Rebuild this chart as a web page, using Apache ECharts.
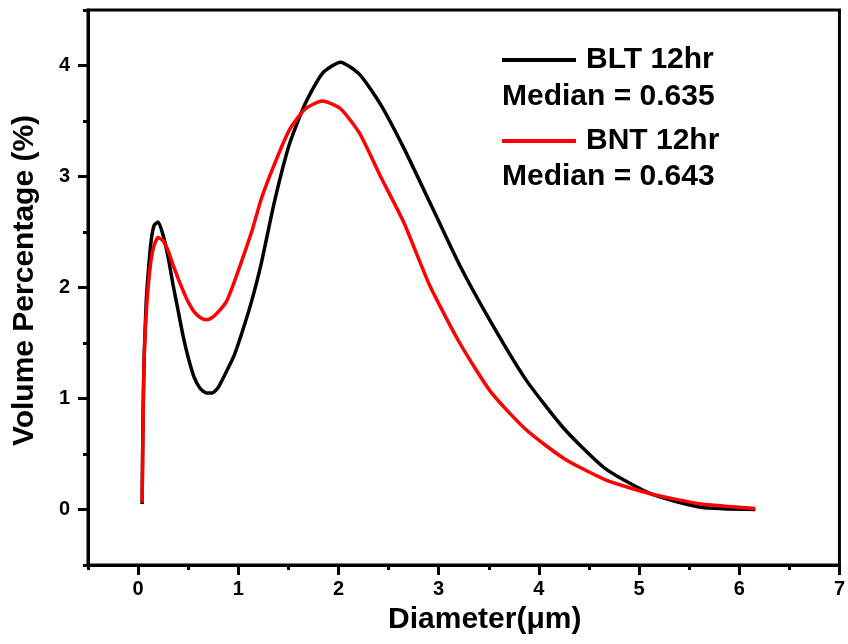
<!DOCTYPE html>
<html>
<head>
<meta charset="utf-8">
<script src="https://cdn.jsdelivr.net/npm/echarts@6/dist/echarts.min.js"></script>
<style>
  html, body { margin: 0; padding: 0; background: #fff; }
  #chart { width: 848px; height: 644px; }
</style>
</head>
<body>
<div id="chart"></div>
<script>
// diameters (um)
var diameters = [0.04, 0.05, 0.06, 0.08, 0.1, 0.13, 0.16, 0.2, 0.25, 0.3, 0.35, 0.4, 0.45, 0.5,
  0.56, 0.62, 0.68, 0.74, 0.8, 0.88, 0.96, 1.05, 1.14, 1.23, 1.36, 1.51, 1.67, 1.84, 2.02,
  2.21, 2.42, 2.65, 2.91, 3.21, 3.52, 3.87, 4.25, 4.66, 5.12, 5.62, 6.16];
var bltValues = [0.05, 0.9, 1.35, 1.85, 2.12, 2.42, 2.56, 2.59, 2.47, 2.27, 2.02, 1.79, 1.56, 1.37,
  1.19, 1.09, 1.05, 1.05, 1.1, 1.24, 1.39, 1.63, 1.9, 2.22, 2.77, 3.29, 3.66, 3.93, 4.03,
  3.92, 3.65, 3.26, 2.77, 2.2, 1.69, 1.17, 0.73, 0.37, 0.14, 0.02, 0.0];
var bntValues = [0.06, 0.8, 1.35, 1.75, 2.0, 2.25, 2.38, 2.45, 2.42, 2.33, 2.2, 2.08, 1.97, 1.87,
  1.78, 1.73, 1.71, 1.73, 1.78, 1.87, 2.05, 2.28, 2.52, 2.8, 3.11, 3.42, 3.61, 3.68, 3.61,
  3.39, 3.0, 2.59, 2.02, 1.5, 1.06, 0.72, 0.46, 0.27, 0.14, 0.05, 0.01];

var xMajor = [0, 1, 2, 3, 4, 5, 6, 7];
var xMinor = [-0.5, 0.5, 1.5, 2.5, 3.5, 4.5, 5.5, 6.5];
var yMajor = [0, 1, 2, 3, 4];
var yMinor = [-0.5, 0.5, 1.5, 2.5, 3.5, 4.5];

var seriesNames = ['BLT 12hr', 'BNT 12hr'];
var medians = ['Median = 0.635', 'Median = 0.643'];

function pairs(xs, ys) {
  return xs.map(function (x, i) { return [x, ys[i]]; });
}

var font = 'Liberation Sans, Arial, sans-serif';

function axisBase(min, max) {
  return {
    type: 'value', min: min, max: max,
    splitLine: { show: false },
    axisLine: { show: true, onZero: false, lineStyle: { color: '#000', width: 3 } }
  };
}

var xMain = axisBase(-0.5, 7);
xMain.name = 'Diameter(\u03bcm)';
xMain.nameLocation = 'middle';
xMain.nameGap = 40;
xMain.nameTextStyle = { fontFamily: font, fontWeight: 'bold', fontSize: 30, color: '#000', padding: [0, 0, 0, 42] };
xMain.axisTick = { show: true, customValues: xMajor, length: 10, lineStyle: { color: '#000', width: 3 } };
xMain.axisLabel = { customValues: xMajor, margin: 14, fontFamily: font, fontWeight: 'bold', fontSize: 20, color: '#000' };

var xMin = axisBase(-0.5, 7);
xMin.position = 'bottom';
xMin.axisLine = { show: false, onZero: false };
xMin.axisTick = { show: true, customValues: xMinor, length: 5, lineStyle: { color: '#000', width: 3 } };
xMin.axisLabel = { show: false };

var yMain = axisBase(-0.5, 4.5);
yMain.name = 'Volume Percentage (%)';
yMain.nameLocation = 'middle';
yMain.nameGap = 48;
yMain.nameTextStyle = { fontFamily: font, fontWeight: 'bold', fontSize: 30, color: '#000', padding: [0, 0, 0, 14] };
yMain.axisTick = { show: true, customValues: yMajor, length: 10, lineStyle: { color: '#000', width: 3 } };
yMain.axisLabel = { customValues: yMajor, margin: 18, fontFamily: font, fontWeight: 'bold', fontSize: 20, color: '#000' };

var yMin = axisBase(-0.5, 4.5);
yMin.position = 'left';
yMin.axisLine = { show: false, onZero: false };
yMin.axisTick = { show: true, customValues: yMinor, length: 5, lineStyle: { color: '#000', width: 3 } };
yMin.axisLabel = { show: false };

var chart = echarts.init(document.getElementById('chart'));
chart.setOption({
  animation: false,
  grid: { left: 88, right: 2, top: 10, bottom: 79, show: true, borderColor: '#000', borderWidth: 3 },
  xAxis: [xMain, xMin],
  yAxis: [yMain, yMin],
  legend: {
    orient: 'vertical', left: 497, top: 40,
    itemWidth: 74, itemHeight: 4, itemGap: 51, icon: 'rect',
    textStyle: { fontFamily: font, fontWeight: 'bold', fontSize: 30, color: '#000', padding: [0, 0, 0, 5] },
    data: seriesNames
  },
  graphic: [
    { type: 'text', left: 502, top: 82, style: { text: medians[0], font: 'bold 30px ' + font, fill: '#000' } },
    { type: 'text', left: 502, top: 162, style: { text: medians[1], font: 'bold 30px ' + font, fill: '#000' } }
  ],
  series: [
    { name: seriesNames[0], type: 'line', data: pairs(diameters, bltValues), showSymbol: false,
      smooth: 0.2, lineStyle: { color: '#000', width: 3.5 }, itemStyle: { color: '#000' } },
    { name: seriesNames[1], type: 'line', data: pairs(diameters, bntValues), showSymbol: false,
      smooth: 0.2, lineStyle: { color: '#ff0000', width: 3.5 }, itemStyle: { color: '#ff0000' } }
  ]
});
</script>
</body>
</html>
